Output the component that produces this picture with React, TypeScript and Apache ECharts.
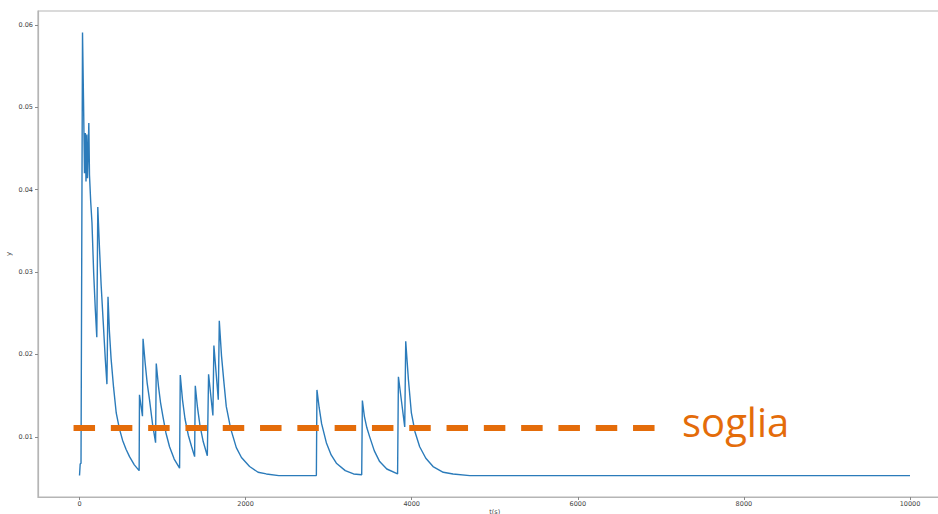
import React, { useEffect, useRef } from "react";
import * as echarts from "echarts";

// Signal samples: [t, y]
const signalPoints: [number, number][] = [
  [0, 0.0053], [8, 0.0067], [18, 0.0068], [36, 0.0591], [48, 0.051], [60, 0.042],
  [70, 0.0469], [78, 0.041], [88, 0.0467], [96, 0.0414], [112, 0.0481], [120, 0.0418],
  [135, 0.0385], [150, 0.036], [170, 0.03], [190, 0.0255], [208, 0.0221],
  [220, 0.0379], [240, 0.033], [260, 0.0285], [285, 0.024], [310, 0.0195], [330, 0.0164],
  [343, 0.027], [360, 0.0228], [380, 0.0195], [410, 0.016], [442, 0.0129], [480, 0.011],
  [518, 0.0096], [560, 0.0085], [602, 0.0076], [660, 0.0066], [718, 0.0059],
  [722, 0.0151], [758, 0.0125], [765, 0.0219], [790, 0.019], [815, 0.0165], [843, 0.0145],
  [880, 0.0115], [916, 0.0093],
  [924, 0.0189], [950, 0.0162], [975, 0.0142], [1004, 0.0125], [1040, 0.0105], [1084, 0.0088],
  [1140, 0.0073], [1205, 0.0062],
  [1213, 0.0175], [1240, 0.0145], [1270, 0.0122], [1310, 0.0102], [1350, 0.0088], [1386, 0.0076],
  [1394, 0.0162], [1420, 0.0136], [1450, 0.0114], [1490, 0.0094], [1539, 0.0077],
  [1554, 0.0176], [1606, 0.0126], [1618, 0.0211], [1671, 0.0145], [1683, 0.0241],
  [1710, 0.0198], [1740, 0.0165], [1767, 0.0137], [1820, 0.011], [1888, 0.0087], [1950, 0.0075],
  [2048, 0.0064], [2150, 0.0057], [2249, 0.0055], [2400, 0.0053], [2852, 0.0053],
  [2859, 0.0157], [2885, 0.0136], [2915, 0.0116], [2972, 0.0093], [3030, 0.0078], [3093, 0.0068],
  [3200, 0.0059], [3300, 0.0055], [3398, 0.0054],
  [3406, 0.0144], [3430, 0.0125], [3460, 0.0111], [3494, 0.01], [3550, 0.0083], [3614, 0.007],
  [3700, 0.0061], [3830, 0.0055],
  [3840, 0.0173], [3916, 0.0112], [3928, 0.0216], [3960, 0.017], [3996, 0.0129], [4040, 0.0106],
  [4096, 0.0088], [4170, 0.0074], [4257, 0.0064], [4380, 0.0057], [4498, 0.0055], [4700, 0.0053],
  [10000, 0.0053],
];

// Threshold ("soglia") line endpoints
const thresholdPoints: [number, number][] = [
  [-72, 0.01109],
  [6940, 0.01109],
];

const xTicks = [0, 2000, 4000, 6000, 8000, 10000];
const yTicks = [0.01, 0.02, 0.03, 0.04, 0.05, 0.06];
const thresholdLabel = "soglia";

export default function App() {
  const ref = useRef<HTMLDivElement>(null);

  useEffect(() => {
    document.body.style.margin = "0";
    if (!ref.current) return;
    const chart = echarts.init(ref.current, undefined, { renderer: "svg" });
    const axisColor = "#b5b5b5";
    const labelStyle = { color: "#444444", fontSize: 6.5, fontFamily: "DejaVu Sans" };
    chart.setOption({
      animation: false,
      backgroundColor: "#ffffff",
      grid: {
        left: 38,
        top: 11,
        bottom: 17,
        right: -13.5,
        show: true,
        borderColor: axisColor,
        borderWidth: 1.2,
        containLabel: false,
        outerBoundsMode: "none",
      },
      xAxis: {
        type: "value",
        min: -500,
        max: 10500,
        name: "t(s)",
        nameLocation: "middle",
        nameGap: 11,
        nameMoveOverlap: false,
        nameTextStyle: { ...labelStyle, fontSize: 6.5 },
        axisLine: { show: true, onZero: false, lineStyle: { color: axisColor, width: 1.2 } },
        axisTick: { show: true, length: 3, customValues: xTicks, lineStyle: { color: "#888888" } },
        axisLabel: { ...labelStyle, margin: 3, customValues: xTicks, formatter: (v: number) => String(v) },
        splitLine: { show: false },
      },
      yAxis: {
        type: "value",
        min: 0.0027,
        max: 0.0617,
        name: "y",
        nameLocation: "middle",
        nameGap: 26,
        nameMoveOverlap: false,
        nameTextStyle: { ...labelStyle, fontSize: 7 },
        axisLine: { show: true, onZero: false, lineStyle: { color: axisColor, width: 1.2 } },
        axisTick: { show: true, length: 3, customValues: yTicks, lineStyle: { color: "#888888" } },
        axisLabel: { ...labelStyle, margin: 5, customValues: yTicks, formatter: (v: number) => v.toFixed(2) },
        splitLine: { show: false },
      },
      series: [
        {
          type: "line",
          data: signalPoints,
          showSymbol: false,
          symbol: "none",
          lineStyle: { color: "#2b7bba", width: 1.4 },
          z: 2,
        },
        {
          type: "line",
          data: thresholdPoints,
          showSymbol: false,
          symbol: "none",
          lineStyle: { color: "#E46C0A", width: 6, type: [21.5, 15.8], cap: "butt" },
          z: 3,
        },
      ],
      graphic: [
        {
          type: "text",
          left: 682,
          top: 401,
          style: {
            text: thresholdLabel,
            fill: "#E46C0A",
            font: '40px "Open Sans"',
          },
        },
      ],
    });
    return () => chart.dispose();
  }, []);

  return <div ref={ref} style={{ width: 938, height: 514 }} />;
}
